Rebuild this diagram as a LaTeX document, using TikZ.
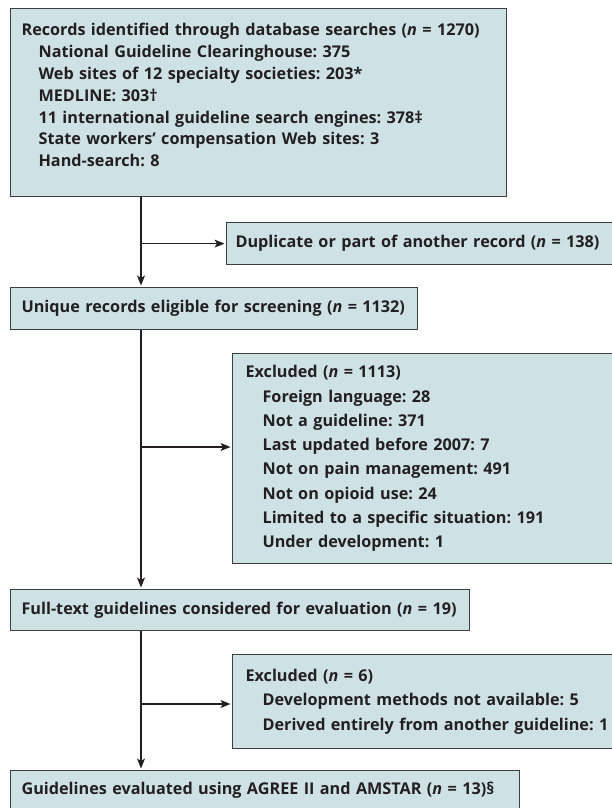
\documentclass[tikz,border=0pt]{standalone}
\usepackage{fontspec}
\setmainfont{Open Sans}
\frenchspacing
\usetikzlibrary{arrows.meta}

\definecolor{boxfill}{RGB}{206,226,230}
\definecolor{boxline}{RGB}{62,62,62}
\definecolor{inkdark}{RGB}{35,31,32}

\tikzset{
  flowbox/.style={draw=boxline, fill=boxfill, line width=1.2bp, anchor=north west,
    inner xsep=11bp, inner ysep=0pt, align=left, text=inkdark},
  leading/.style={font=\fontsize{16.2bp}{#1}\selectfont\bfseries},
  boxsize/.style 2 args={minimum width=#1bp, text width=#1bp-22bp, minimum height=#2bp},
  arr/.style={draw=inkdark, line width=1.2bp, shorten >=1.5bp,
    -{Stealth[length=10bp,width=8bp,inset=2.5bp]}},
}
\newcommand{\sub}[1]{\hspace*{17bp}#1}
\newcommand{\lowpad}[1]{\rule[-#1]{0pt}{#1}}

\begin{document}
\begin{tikzpicture}[x=1bp, y=-1bp]
  \useasboundingbox (0,0) rectangle (612,808);

  % trunk of the chart and its split points
  \coordinate (trunk) at (141,0);
  \coordinate (split2) at (141,447);
  \coordinate (split3) at (141,704);

  % boxes (the ones on the right run past the page edge)
  \node[flowbox, leading=21.8bp, boxsize={496}{188}] (records) at (10,8) {%
    Records identified through database searches (\textit{n} = 1270)\\
    \sub{National Guideline Clearinghouse: 375}\\
    \sub{Web sites of 12 specialty societies: 203*}\\
    \sub{MEDLINE: 303†}\\
    \sub{11 international guideline search engines: 378‡}\\
    \sub{State workers’ compensation Web sites: 3}\\
    \sub{Hand-search: 8}\lowpad{15bp}};

  \node[flowbox, leading=21.8bp, boxsize={387}{42}, inner xsep=9bp, text width=390bp] (dup) at (226,222)
    {Duplicate or part of another record (\textit{n} = 138)};

  \node[flowbox, leading=21.8bp, boxsize={407}{42}] (unique) at (10,287)
    {Unique records eligible for screening (\textit{n} = 1132)};

  \node[flowbox, leading=24.3bp, boxsize={381}{210}, inner xsep=13bp, text width=380bp] (excl1) at (232,353) {%
    Excluded (\textit{n} = 1113)\\
    \sub{Foreign language: 28}\\
    \sub{Not a guideline: 371}\\
    \sub{Last updated before 2007: 7}\\
    \sub{Not on pain management: 491}\\
    \sub{Not on opioid use: 24}\\
    \sub{Limited to a specific situation: 191}\\
    \sub{Under development: 1}};

  \node[flowbox, leading=21.8bp, boxsize={459}{41}] (fulltext) at (10,589)
    {Full-text guidelines considered for evaluation (\textit{n} = 19)};

  \node[flowbox, leading=24.3bp, boxsize={381}{94}, inner xsep=13bp, text width=380bp] (excl2) at (232,654) {%
    Excluded (\textit{n} = 6)\\
    \sub{Development methods not available: 5}\\
    \sub{Derived entirely from another guideline: 1}};

  \node[flowbox, leading=21.8bp, boxsize={509}{40}] (final) at (10,770)
    {Guidelines evaluated using AGREE II and AMSTAR (\textit{n} = 13)§};

  % connectors
  \draw[arr] (records.south -| trunk) -- (unique.north -| trunk);
  \draw[arr] (dup.west -| trunk) -- (dup.west);
  \draw[arr] (unique.south -| trunk) -- (fulltext.north -| trunk);
  \draw[arr] (split2) -- (split2 -| excl1.west);
  \draw[arr] (fulltext.south -| trunk) -- (final.north -| trunk);
  \draw[arr] (split3) -- (split3 -| excl2.west);

\end{tikzpicture}
\end{document}
